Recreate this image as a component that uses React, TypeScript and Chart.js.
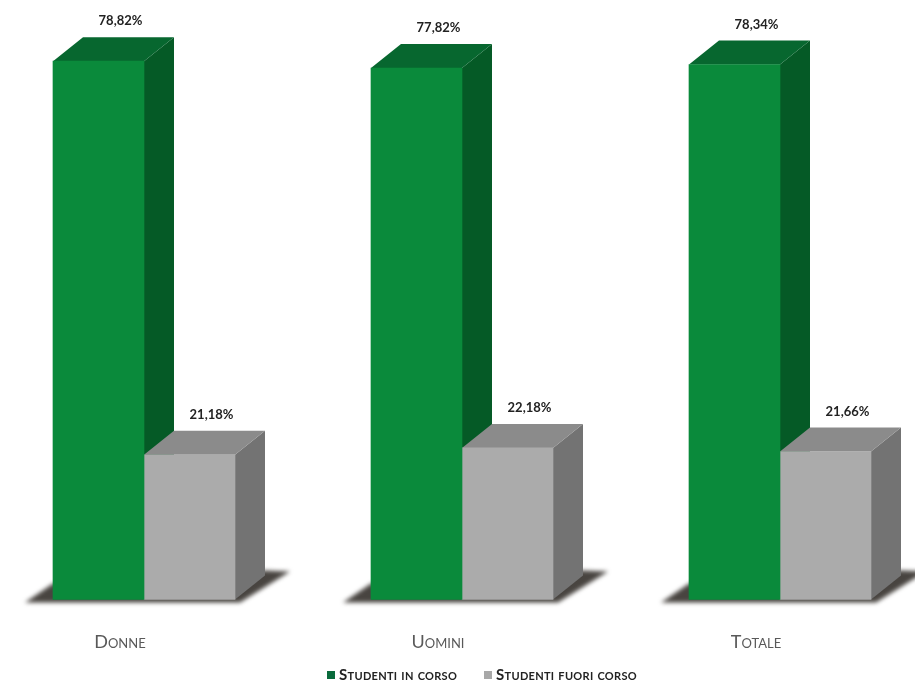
import React, { useEffect, useRef } from "react";
import { Chart, registerables } from "chart.js";

Chart.register(...registerables);

const categories = ["Donne", "Uomini", "Totale"];
const inCorso = [78.82, 77.82, 78.34];
const fuoriCorso = [21.18, 22.18, 21.66];
const seriesNames = ["Studenti in corso", "Studenti fuori corso"];

const FONT = "Lato, 'Open Sans', sans-serif";
const DEPTH_X = 30;
const DEPTH_Y = 24;
const faces = [
  { top: "#07672f", side: "#055a26", tile: "#0a6b3c" },
  { top: "#8b8b8b", side: "#737373", tile: "#a8a8a8" },
];

function poly(ctx: CanvasRenderingContext2D, pts: number[][], fill: string) {
  ctx.beginPath();
  pts.forEach(([x, y], i) => (i ? ctx.lineTo(x, y) : ctx.moveTo(x, y)));
  ctx.closePath();
  ctx.fillStyle = fill;
  ctx.fill();
}

const bars3d = {
  id: "bars3d",
  beforeDatasetsDraw(chart: any) {
    const ctx: CanvasRenderingContext2D = chart.ctx;
    const green = chart.getDatasetMeta(0).data;
    const grey = chart.getDatasetMeta(1).data;
    ctx.save();
    ctx.filter = "blur(2px)";
    green.forEach((g: any, i: number) => {
      const left = g.x - g.width / 2;
      const right = grey[i].x + grey[i].width / 2;
      const base = g.base;
      poly(
        ctx,
        [
          [left - 28, base + 3],
          [left, base - 16],
          [right + 30, base - 29],
          [right + 55, base - 28],
          [right + 5, base + 3],
        ],
        "rgba(62,58,54,0.95)"
      );
    });
    ctx.filter = "none";
    [green, grey].forEach((bars: any[], d: number) => {
      bars.forEach((b: any) => {
        const l = b.x - b.width / 2;
        const r = b.x + b.width / 2;
        poly(ctx, [[r, b.y], [r + DEPTH_X, b.y - DEPTH_Y], [r + DEPTH_X, b.base - DEPTH_Y], [r, b.base]], faces[d].side);
        poly(ctx, [[l, b.y], [l + DEPTH_X, b.y - DEPTH_Y], [r + DEPTH_X, b.y - DEPTH_Y], [r, b.y]], faces[d].top);
      });
    });
    ctx.restore();
  },
  afterDatasetsDraw(chart: any) {
    const ctx: any = chart.ctx;
    ctx.save();
    ctx.font = `bold 13px ${FONT}`;
    ctx.fillStyle = "#222222";
    ctx.textAlign = "center";
    ctx.textBaseline = "middle";
    chart.data.datasets.forEach((ds: any, d: number) => {
      chart.getDatasetMeta(d).data.forEach((b: any, i: number) => {
        const text = ds.data[i].toFixed(2).replace(".", ",") + "%";
        ctx.fillText(text, b.x + 22, b.y - 40);
      });
    });
    // legend, built from the dataset labels
    ctx.font = `bold 15px ${FONT}`;
    ctx.fontVariantCaps = "small-caps";
    ctx.letterSpacing = "0.3px";
    ctx.textAlign = "left";
    const starts = [327, 484];
    chart.data.datasets.forEach((ds: any, d: number) => {
      ctx.fillStyle = faces[d].tile;
      ctx.fillRect(starts[d], 671, 8, 8);
      ctx.fillStyle = "#222222";
      ctx.fillText(ds.label, starts[d] + 12, 675);
    });
    ctx.restore();
  },
};

export default function App() {
  const ref = useRef<HTMLCanvasElement>(null);
  useEffect(() => {
    const chart = new Chart(ref.current!, {
      type: "bar",
      plugins: [bars3d],
      data: {
        labels: categories,
        datasets: [
          { label: seriesNames[0], data: inCorso, backgroundColor: "#0a8a3b", clip: false, barThickness: 91 },
          { label: seriesNames[1], data: fuoriCorso, backgroundColor: "#ababab", clip: false, barThickness: 91 },
        ] as any,
      },
      options: {
        animation: false,
        responsive: false,
        layout: { padding: { left: 144, right: 135, top: 19, bottom: 5 } },
        scales: {
          x: {
            offset: false,
            grid: { display: false },
            border: { display: false },
            ticks: {
              padding: 24,
              labelOffset: -24,
              maxRotation: 0,
              autoSkip: false,
              color: "#595959",
              font: { family: FONT, size: 18, weight: "small-caps 400" as any },
            },
          },
          y: { display: false, min: 0, max: 85 },
        },
        plugins: {
          tooltip: { enabled: false },
          legend: { display: false },
        },
      },
    });
    return () => chart.destroy();
  }, []);
  return (
    <canvas
      ref={ref}
      width={915}
      height={682}
      style={{ position: "fixed", left: 0, top: 0, display: "block" }}
    />
  );
}
